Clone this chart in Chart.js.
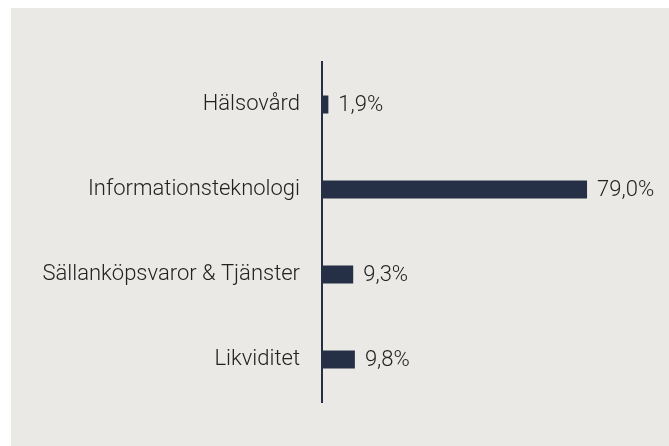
<!DOCTYPE html>
<html>
<head>
<meta charset="utf-8">
<script src="https://cdn.jsdelivr.net/npm/chart.js@4"></script>
<style>
  html, body { margin: 0; padding: 0; background: #ffffff; }
  #wrap { position: absolute; left: 11px; top: 8px; width: 658px; height: 438px; background: #eae9e5; }
</style>
</head>
<body>
<div id="wrap"><canvas id="bars"></canvas></div>
<script>
const categories = ["Hälsovård", "Informationsteknologi", "Sällanköpsvaror & Tjänster", "Likviditet"];
const shares = [1.9, 79.0, 9.3, 9.8];

const navy = "#253047";
const textColor = "#222222";
const font = { family: "Roboto", weight: 300, size: 22 };

const fmt = (v) => v.toFixed(1).replace(".", ",") + "%";

// prints the value just right of every bar
const valueLabels = {
	id: "valueLabels",
	afterDatasetsDraw(chart) {
		const ctx = chart.ctx;
		const meta = chart.getDatasetMeta(0);
		ctx.save();
		ctx.font = "300 22px Roboto";
		ctx.fillStyle = textColor;
		ctx.textAlign = "left";
		ctx.textBaseline = "middle";
		meta.data.forEach((bar, i) => {
			ctx.fillText(fmt(shares[i]), bar.x + 10, bar.y + 1);
		});
		ctx.restore();
	},
};

const ctx = document.getElementById("bars").getContext("2d");
const chart = new Chart(ctx, {
	type: "bar",
	data: {
		labels: categories,
		datasets: [
			{
				data: shares,
				backgroundColor: navy,
				borderWidth: 0,
				categoryPercentage: 1,
				barPercentage: 0.212,
			},
		],
	},
	options: {
		indexAxis: "y",
		responsive: true,
		maintainAspectRatio: false,
		animation: false,
		layout: { padding: { top: 54, bottom: 44, left: 0, right: 11.5 } },
		plugins: {
			legend: { display: false },
			tooltip: { enabled: false },
		},
		scales: {
			x: {
				display: false,
				min: 0,
				max: 100,
			},
			y: {
				grid: { display: false, drawTicks: false },
				border: { display: true, color: navy, width: 2 },
				ticks: { color: textColor, font: font, padding: 22 },
				afterFit(scale) {
					scale.width = 311;
				},
			},
		},
	},
	plugins: [valueLabels],
});
</script>
</body>
</html>
